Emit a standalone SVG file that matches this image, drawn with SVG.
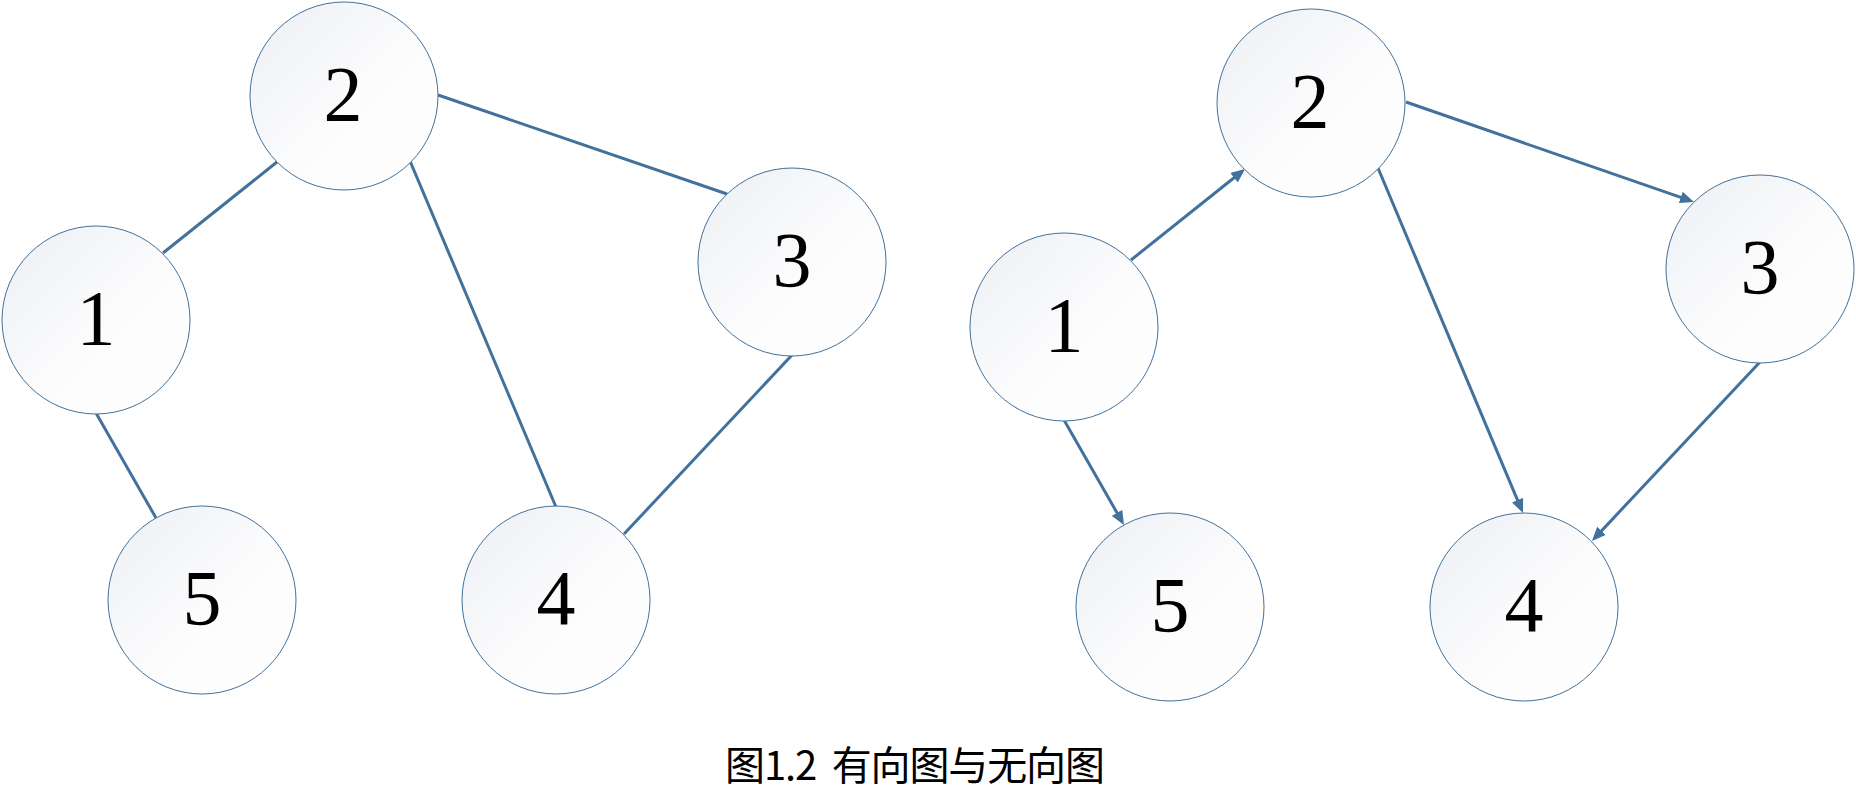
<svg xmlns="http://www.w3.org/2000/svg" width="1856" height="811" viewBox="0 0 1856 811">
<defs>
<linearGradient id="nodeFill" x1="0" y1="0" x2="1" y2="1">
<stop offset="0" stop-color="#eceff3"/>
<stop offset="0.55" stop-color="#fcfcfd"/>
<stop offset="1" stop-color="#ffffff"/>
</linearGradient>
<marker id="arrow" viewBox="0 0 14 12" markerWidth="14" markerHeight="12" refX="10" refY="6" orient="auto" markerUnits="userSpaceOnUse">
<path d="M0,0 L14,6 L0,12 Z" fill="#41719c"/>
</marker>
</defs>
<style>
.node circle{fill:url(#nodeFill);stroke:#41719c;stroke-width:1}
.node text{font-family:"Liberation Serif","Times New Roman",serif;font-size:78px;fill:#000;text-anchor:middle}
.edge{stroke:#41719c;stroke-width:3;fill:none}
.caption{font-family:"Noto Sans CJK SC","Noto Sans",sans-serif;font-size:40px;fill:#000}
</style>
<rect width="1856" height="811" fill="#ffffff"/>
<g id="connectors">
<line class="edge" x1="277" y1="162" x2="163" y2="253"/>
<line class="edge" x1="438" y1="95" x2="727" y2="194"/>
<line class="edge" x1="410" y1="161" x2="556" y2="507"/>
<line class="edge" x1="792" y1="355" x2="624" y2="534"/>
<line class="edge" x1="96" y1="413" x2="156" y2="518"/>
<line class="edge" x1="1131" y1="260" x2="1241.9" y2="171.5" marker-end="url(#arrow)"/>
<line class="edge" x1="1406" y1="102" x2="1690.2" y2="200.7" marker-end="url(#arrow)"/>
<line class="edge" x1="1378" y1="168" x2="1521.4" y2="509.3" marker-end="url(#arrow)"/>
<line class="edge" x1="1760" y1="362" x2="1594.7" y2="538.1" marker-end="url(#arrow)"/>
<line class="edge" x1="1064" y1="420" x2="1122" y2="521.5" marker-end="url(#arrow)"/>
</g>
<g id="L2" class="node"><circle cx="344" cy="96" r="94"/><text x="343" y="120">2</text></g>
<g id="L1" class="node"><circle cx="96" cy="320" r="94"/><text x="96" y="344">1</text></g>
<g id="L3" class="node"><circle cx="792" cy="262" r="94"/><text x="792" y="286">3</text></g>
<g id="L5" class="node"><circle cx="202" cy="600" r="94"/><text x="202" y="624">5</text></g>
<g id="L4" class="node"><circle cx="556" cy="600" r="94"/><text x="556" y="624">4</text></g>
<g id="R2" class="node"><circle cx="1311" cy="103" r="94"/><text x="1310" y="127">2</text></g>
<g id="R1" class="node"><circle cx="1064" cy="327" r="94"/><text x="1064" y="351">1</text></g>
<g id="R3" class="node"><circle cx="1760" cy="269" r="94"/><text x="1760" y="293">3</text></g>
<g id="R5" class="node"><circle cx="1170" cy="607" r="94"/><text x="1170" y="631">5</text></g>
<g id="R4" class="node"><circle cx="1524" cy="607" r="94"/><text x="1524" y="631">4</text></g>
<text class="caption" x="725" y="780" textLength="380" lengthAdjust="spacing" xml:space="preserve">图1.2  有向图与无向图</text>
</svg>
